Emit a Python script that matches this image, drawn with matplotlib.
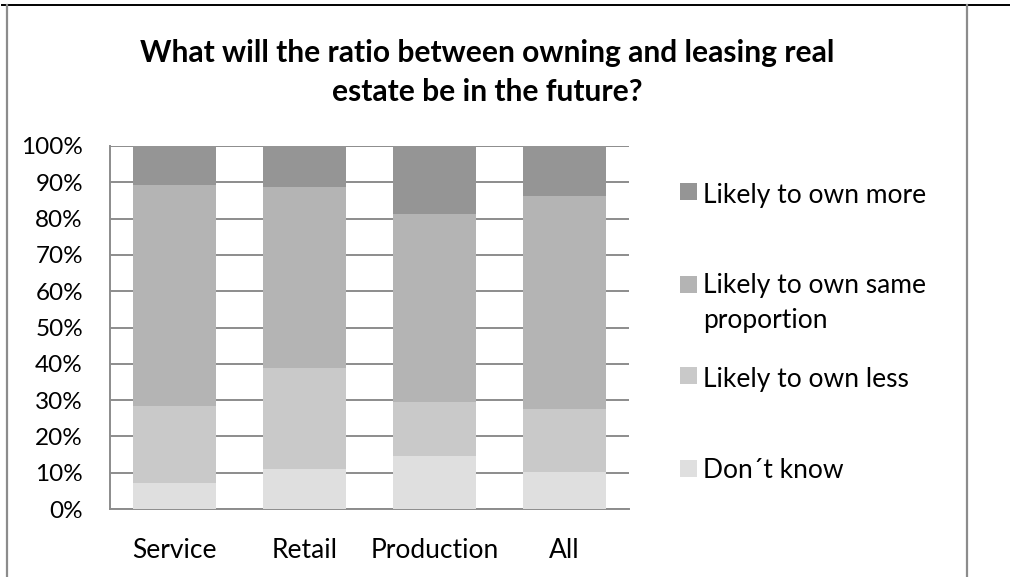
import matplotlib
matplotlib.use("Agg")
import matplotlib.pyplot as plt
from matplotlib.patches import Rectangle
from matplotlib.lines import Line2D
from matplotlib.ticker import FuncFormatter
import numpy as np

plt.rcParams['font.family'] = ['Lato', 'DejaVu Sans']

categories = ["Service", "Retail", "Production", "All"]
# shares in percent, stacked bottom to top
dont_know = [7.2, 11.0, 14.7, 10.3]
own_less = [21.2, 27.9, 14.9, 17.2]
own_same = [60.9, 49.9, 51.8, 58.7]
own_more = [10.7, 11.2, 18.6, 13.8]

series_labels = ["Don\u00b4t know", "Likely to own less",
                 "Likely to own same\nproportion", "Likely to own more"]
series_values = [dont_know, own_less, own_same, own_more]
series_colors = ["#dfdfdf", "#c9c9c9", "#b4b4b4", "#959595"]

title = "What will the ratio between owning and leasing real\nestate be in the future?"

W, H = 1010, 577
fig = plt.figure(figsize=(W / 100, H / 100), dpi=100)
fig.patch.set_facecolor("white")


def fx(px):
    return px / W


def fy(py):
    return 1 - py / H


# chart frame: dark rule on top, grey sides
fig.add_artist(Line2D([fx(2), fx(1010)], [fy(4.5), fy(4.5)], color="black",
                      lw=1.4, transform=fig.transFigure))
for xpx in (6.5, 966.5):
    fig.add_artist(Line2D([fx(xpx), fx(xpx)], [fy(5), fy(577)], color="#8c8c8c",
                          lw=1.6, transform=fig.transFigure))

ax = fig.add_axes([fx(110), fy(509), fx(629) - fx(110), fy(146) - fy(509)])
x = np.arange(len(categories))
bottom = np.zeros(len(categories))
for vals, col in zip(series_values, series_colors):
    ax.bar(x, vals, width=0.64, bottom=bottom, color=col, edgecolor="none", zorder=3)
    bottom += np.array(vals)

ax.set_xlim(-0.5, len(categories) - 0.5)
ax.set_ylim(0, 100)
ax.set_yticks(np.arange(0, 101, 10))
ax.yaxis.set_major_formatter(FuncFormatter(lambda v, p: f"{v:.0f}%"))
ax.grid(axis="y", color="#8c8c8c", lw=1.4, zorder=1)
ax.set_xticks(x)
ax.set_xticklabels(categories)
ax.tick_params(axis="both", length=0, colors="black")
ax.tick_params(axis="y", pad=19.5, labelsize=17.5)
ax.tick_params(axis="x", pad=21, labelsize=19)
for s in ("top", "right"):
    ax.spines[s].set_visible(False)
for s in ("left", "bottom"):
    ax.spines[s].set_color("#8c8c8c")
    ax.spines[s].set_linewidth(1.4)

# two-line bold title, each line placed on its own baseline
for line, base in zip(title.split("\n"), (62, 101)):
    fig.text(fx(487), fy(base), line, ha="center", va="baseline", fontsize=21.6,
             fontweight="bold")

# legend, top to bottom: marker centre and first-line baseline (pixels)
legend_rows = [(series_labels[3], series_colors[3], 191.5, 203),
               (series_labels[2], series_colors[2], 284.5, 293),
               (series_labels[1], series_colors[1], 375, 386.5),
               (series_labels[0], series_colors[0], 468, 478)]
for label, col, mid, base in legend_rows:
    fig.add_artist(Rectangle((fx(680), fy(mid + 8.5)), fx(17), 17 / H,
                             facecolor=col, edgecolor="none",
                             transform=fig.transFigure))
    for i, line in enumerate(label.split("\n")):
        fig.text(fx(703), fy(base + 35 * i), line, ha="left", va="baseline",
                 fontsize=19)

fig.savefig("out.png", dpi=100, facecolor="white")
